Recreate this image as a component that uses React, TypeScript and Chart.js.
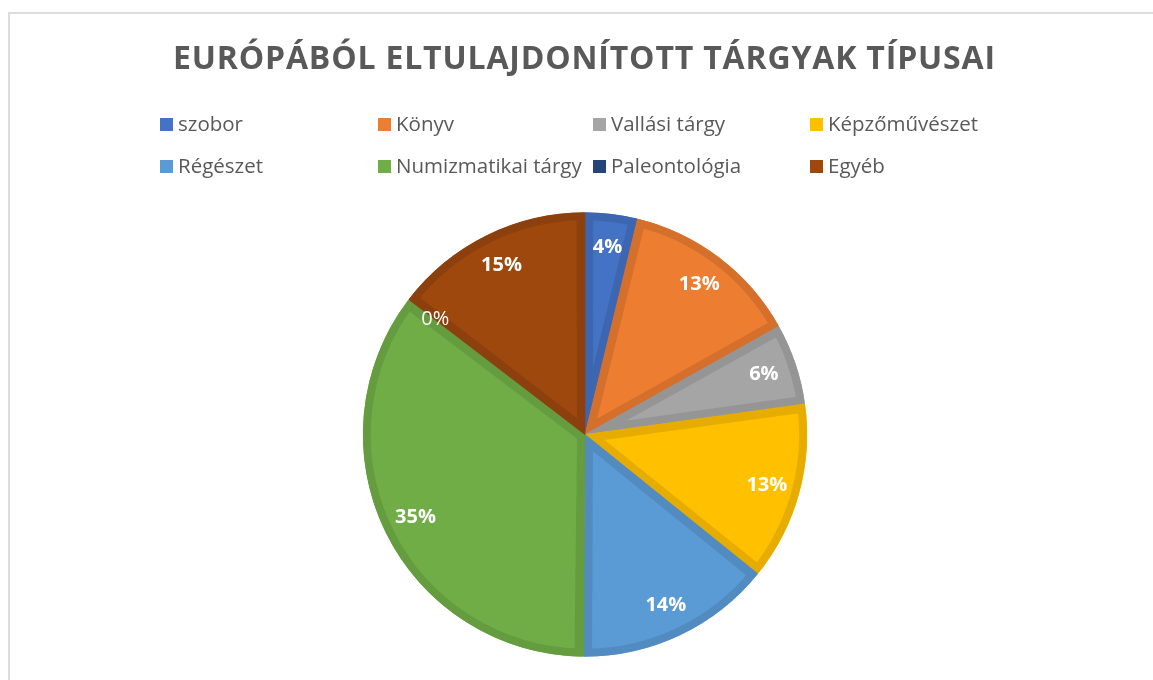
import React, { useEffect, useRef } from "react";
import { Chart, registerables } from "chart.js";

Chart.register(...registerables);

const titleText = "EURÓPÁBÓL ELTULAJDONÍTOTT TÁRGYAK TÍPUSAI";
const categories = [
  "szobor",
  "Könyv",
  "Vallási tárgy",
  "Képzőművészet",
  "Régészet",
  "Numizmatikai tárgy",
  "Paleontológia",
  "Egyéb",
];
const shares = [3.8, 13.1, 5.9, 13.0, 14.3, 35.3, 0, 14.6];
const fillColors = ["#4472C4", "#ED7D31", "#A5A5A5", "#FFC000", "#5B9BD5", "#70AD47", "#264478", "#9E480E"];
const edgeColors = ["#3E66B0", "#D4702C", "#959595", "#E6AC00", "#528BC0", "#659C40", "#213B68", "#8C400D"];

const FONT = "'Open Sans', 'DejaVu Sans', sans-serif";
const TEXT_COLOR = "#595959";
const legendCols = [160, 378, 593, 810];
const legendRows = [124, 166];

const titlePlugin = {
  id: "excelTitle",
  afterDraw(chart: any) {
    const ctx = chart.ctx as CanvasRenderingContext2D;
    ctx.save();
    ctx.font = `bold 32px ${FONT}`;
    ctx.fillStyle = TEXT_COLOR;
    ctx.textBaseline = "alphabetic";
    ctx.textAlign = "left";
    (ctx as any).letterSpacing = "0px";
    const w = ctx.measureText(titleText).width;
    const target = 822;
    const sp = (target - w) / (titleText.length - 1);
    (ctx as any).letterSpacing = `${sp}px`;
    ctx.fillText(titleText, 584 - target / 2, 69);
    ctx.restore();
  },
};

const legendPlugin = {
  id: "gridLegend",
  afterDraw(chart: any) {
    const ctx = chart.ctx as CanvasRenderingContext2D;
    const labels = chart.data.labels as string[];
    const colors = chart.data.datasets[0].backgroundColor as string[];
    ctx.save();
    ctx.font = `20.5px ${FONT}`;
    ctx.textBaseline = "middle";
    ctx.textAlign = "left";
    labels.forEach((lab, i) => {
      const x = legendCols[i % 4];
      const y = legendRows[Math.floor(i / 4)];
      ctx.fillStyle = colors[i];
      ctx.fillRect(x, y - 6, 13, 13);
      ctx.fillStyle = TEXT_COLOR;
      ctx.fillText(lab, x + 18, y + 1);
    });
    ctx.restore();
  },
};

const sliceLabelPlugin = {
  id: "sliceLabels",
  afterDatasetsDraw(chart: any) {
    const ctx = chart.ctx as CanvasRenderingContext2D;
    const meta = chart.getDatasetMeta(0);
    const data = chart.data.datasets[0].data as number[];
    const total = data.reduce((a, b) => a + b, 0);
    ctx.save();
    ctx.fillStyle = "#FFFFFF";
    ctx.textAlign = "center";
    ctx.textBaseline = "middle";
    meta.data.forEach((arc: any, i: number) => {
      const p = arc.getProps(["x", "y", "startAngle", "endAngle", "outerRadius"], true);
      const mid = (p.startAngle + p.endAngle) / 2;
      const r = p.outerRadius * 0.85;
      const pct = Math.round((data[i] / total) * 100);
      ctx.font = `${pct === 0 ? "" : "bold "}20px ${FONT}`;
      ctx.fillText(`${pct}%`, p.x + Math.cos(mid) * r, p.y + Math.sin(mid) * r);
    });
    ctx.restore();
  },
};

export default function App() {
  const ref = useRef<HTMLCanvasElement | null>(null);

  useEffect(() => {
    if (!ref.current) return;
    const chart = new Chart(ref.current, {
      type: "pie",
      data: {
        labels: categories,
        datasets: [
          {
            data: shares,
            backgroundColor: fillColors,
            borderColor: edgeColors,
            borderWidth: 8,
            borderAlign: "inner",
            spacing: 1,
          } as any,
        ],
      },
      options: {
        responsive: false,
        animation: false,
        layout: { padding: { top: 212, bottom: 23, left: 100, right: 83 } },
        plugins: {
          legend: { display: false },
          title: { display: false },
          tooltip: { enabled: false },
        },
      },
      plugins: [titlePlugin, legendPlugin, sliceLabelPlugin],
    });
    return () => chart.destroy();
  }, []);

  return (
    <div
      style={{
        position: "fixed",
        left: 0,
        top: 0,
        width: 1153,
        height: 680,
        overflow: "hidden",
        background: "#FFFFFF",
      }}
    >
      <div
        style={{
          position: "absolute",
          left: 8,
          top: 12,
          width: 1200,
          height: 720,
          border: "2px solid #DCDCDC",
          boxSizing: "border-box",
        }}
      />
      <canvas ref={ref} width={1153} height={680} style={{ position: "absolute", left: 0, top: 0 }} />
    </div>
  );
}
